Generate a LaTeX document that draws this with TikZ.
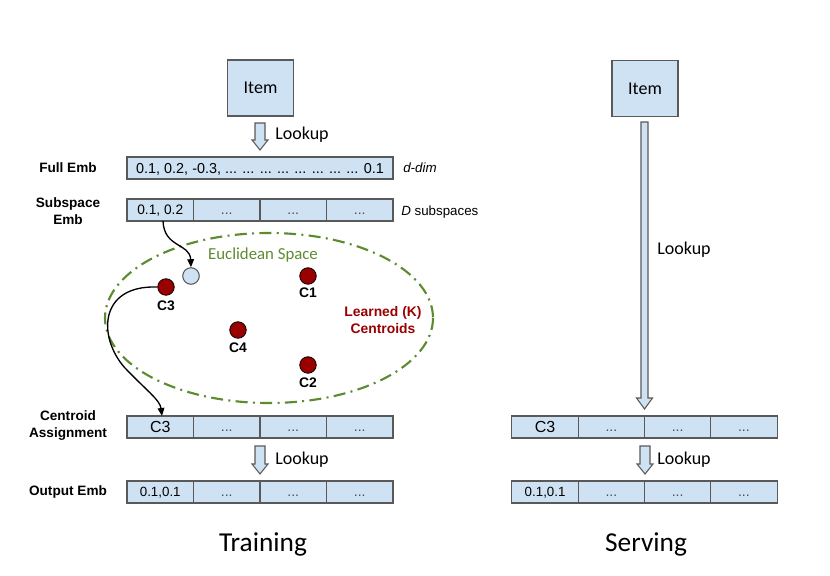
\documentclass[tikz,border=0pt]{standalone}
\usepackage{fontspec}
\setmainfont{Liberation Sans}
\newfontfamily\calib{Carlito}
\usetikzlibrary{arrows.meta}
\definecolor{cellblue}{HTML}{CFE2F3}
\definecolor{cellline}{HTML}{595959}
\definecolor{dotred}{HTML}{990000}
\definecolor{eucgreen}{HTML}{5E8B30}
\begin{document}
\begin{tikzpicture}[x=0.75pt,y=-0.75pt,
  cell/.style={draw=cellline,fill=cellblue,line width=0.8pt,inner sep=0pt,outer sep=0pt,
    minimum width=49.875pt,minimum height=16.5pt,text height=7.4pt,text depth=0pt,
    font=\fontsize{10.3}{12}\selectfont},
  widecell/.style={cell,minimum width=199.5pt,font=\fontsize{10.8}{12}\selectfont,text height=7.7pt},
  bigcell/.style={cell,font=\fontsize{12}{14}\selectfont,text height=8.6pt},
  dots/.style={cell,font=\fontsize{10.5}{12}\selectfont\color{black!70}},
  itembox/.style={draw=cellline,fill=cellblue,line width=0.8pt,minimum width=49.5pt,minimum height=42pt,
    inner sep=0pt,font=\calib\fontsize{13.5}{15}\selectfont},
  rowlabel/.style={font=\bfseries\fontsize{10.2}{12.6}\selectfont,align=center,inner sep=0pt},
  sidenote/.style={font=\fontsize{10}{12}\selectfont,anchor=west,inner sep=0pt},
  lookuptxt/.style={font=\calib\fontsize{13.5}{15}\selectfont,anchor=west,inner sep=0pt},
  barr/.style={draw=cellline,fill=cellblue,line width=0.8pt,line join=miter},
  centroid/.style={circle,draw=black,fill=dotred,line width=0.6pt,minimum size=12.4pt,inner sep=0pt},
  query/.style={circle,draw=cellline,fill=cellblue,line width=0.8pt,minimum size=12.4pt,inner sep=0pt},
  clabel/.style={font=\bfseries\fontsize{10.4}{12}\selectfont,inner sep=0pt},
  curvearrow/.style={line width=1pt,-{Triangle[length=6pt,width=5pt]}},
  title/.style={font=\calib\fontsize{20.5}{24}\selectfont,inner sep=0pt}]
\useasboundingbox (0,0) rectangle (830,575);
\newcommand\blockarrow[6]{% x, ytop, ytip, shaft half, head half, head length
  \draw[barr] (#1-#4,#2) -- (#1+#4,#2) -- (#1+#4,#3-#6) -- (#1+#5,#3-#6) -- (#1,#3)
    -- (#1-#5,#3-#6) -- (#1-#4,#3-#6) -- cycle;}

% ---------------- Training ----------------
\node[itembox] (itemL) at (260.5,88) {Item};
\blockarrow{260}{123}{150}{5}{8}{10}
\node[lookuptxt] (lkL1) at (275,135) {Lookup};

\node[rowlabel] (lblFull) at (68,168) {Full Emb};
\node[widecell] (full) at (260,168) {0.1, 0.2, -0.3, ... ... ... ... ... ... ... ... 0.1};
\node[sidenote] (ddim) at (403,168) {\itshape d-dim};

\node[rowlabel] (lblSub) at (68,211.5) {Subspace\\Emb};
\node[cell] (s1) at (160.25,210) {0.1, 0.2};
\node[dots] (s2) at (226.75,210) {...};
\node[dots] (s3) at (293.25,210) {...};
\node[dots] (s4) at (359.75,210) {...};
\node[sidenote] (dsub) at (401,212) {\itshape D\upshape\ subspaces};

% Euclidean space
\draw[eucgreen,line width=1.6pt,dash pattern=on 9pt off 4pt on 1.5pt off 4pt] (269,318) ellipse [x radius=164, y radius=85];
\node[font=\calib\fontsize{12.6}{14}\selectfont,text=eucgreen,inner sep=0pt] (euc) at (263,255) {Euclidean Space};

\node[query] (q) at (191,276) {};
\node[centroid] (c3) at (166,287) {};
\node[clabel] at (166,306) {C3};
\node[centroid] (c1) at (308,276) {};
\node[clabel] at (308,293) {C1};
\node[centroid] (c4) at (238,330) {};
\node[clabel] at (238,348) {C4};
\node[centroid] (c2) at (308,365) {};
\node[clabel] at (308,383) {C2};
\node[font=\bfseries\fontsize{10.4}{12.6}\selectfont,text=dotred,align=center,inner sep=0pt] (learned) at (383,320) {Learned (K)\\Centroids};

\node[rowlabel] (lblCent) at (68,425.5) {Centroid\\Assignment};
\node[bigcell] (a1) at (160.25,427) {C3};
\node[dots] (a2) at (226.75,427) {...};
\node[dots] (a3) at (293.25,427) {...};
\node[dots] (a4) at (359.75,427) {...};

\blockarrow{260}{446}{474}{5}{8}{10}
\node[lookuptxt] (lkL2) at (275,460) {Lookup};

\node[rowlabel] (lblOut) at (68,492) {Output Emb};
\node[cell,font=\fontsize{10}{12}\selectfont] (o1) at (160.25,492) {0.1,0.1};
\node[dots] (o2) at (226.75,492) {...};
\node[dots] (o3) at (293.25,492) {...};
\node[dots] (o4) at (359.75,492) {...};

\draw[curvearrow] (163,221) .. controls (164,248) and (190,243) .. (q.north);
\draw[curvearrow] (c3.west) .. controls (98,285) and (98,338) .. (125,368)
   .. controls (146,390) and (160,400) .. (a1.north -| 162,0);

\node[title] (train) at (263,544) {Training};

% ---------------- Serving ----------------
\node[itembox] (itemR) at (645,88.5) {Item};
\blockarrow{644.5}{122}{409}{3.5}{8}{11}
\node[lookuptxt] (lkR1) at (657,250) {Lookup};

\node[bigcell] (r1) at (545.1,427) {C3};
\node[dots] (r2) at (611.4,427) {...};
\node[dots] (r3) at (677.6,427) {...};
\node[dots] (r4) at (743.9,427) {...};

\blockarrow{645}{446}{474}{5}{8}{10}
\node[lookuptxt] (lkR2) at (657,460) {Lookup};

\node[cell,font=\fontsize{10}{12}\selectfont] (p1) at (545.1,492) {0.1,0.1};
\node[dots] (p2) at (611.4,492) {...};
\node[dots] (p3) at (677.6,492) {...};
\node[dots] (p4) at (743.9,492) {...};

\node[title] (serve) at (646,544) {Serving};
\end{tikzpicture}
\end{document}
